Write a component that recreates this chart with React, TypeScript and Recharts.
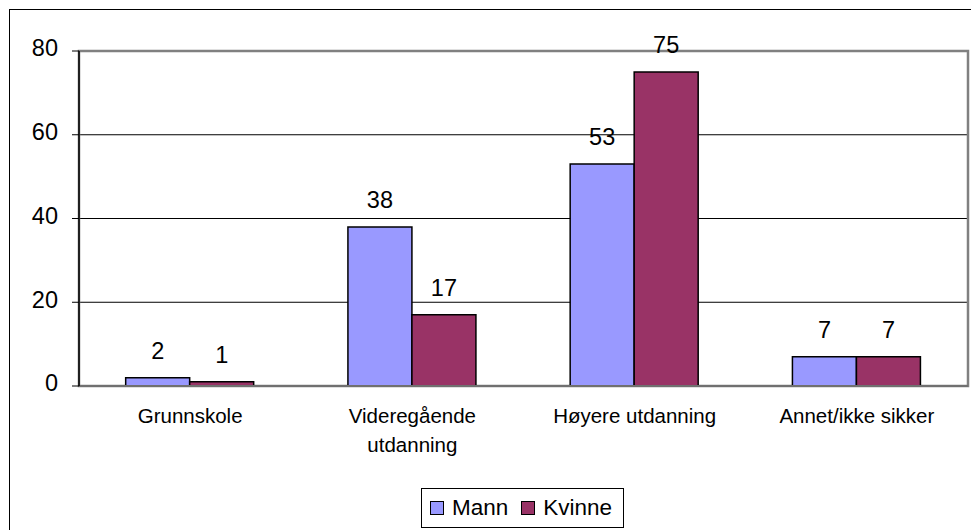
import { BarChart, Bar, XAxis, YAxis, CartesianGrid, LabelList, ReferenceArea } from 'recharts';

const categories = ['Grunnskole', 'Videregående utdanning', 'Høyere utdanning', 'Annet/ikke sikker'];
const mann = [2, 38, 53, 7];
const kvinne = [1, 17, 75, 7];
const yTicks = [0, 20, 40, 60, 80];
const edgeTicks = [0, 1, 2, 3, 4];

const data = categories.map((name, i) => ({ name, Mann: mann[i], Kvinne: kvinne[i] }));

const FONT = 'Liberation Sans, Arial, sans-serif';
const MANN_COLOR = '#9999FF';
const KVINNE_COLOR = '#993366';

// long labels wrap onto two lines, like Excel does when they don't fit the category
const wrapLabel = (s: string) => {
  if (s.length <= 18) return [s];
  const cut = s.lastIndexOf(' ');
  return cut > 0 ? [s.slice(0, cut), s.slice(cut + 1)] : [s];
};

const CategoryTick = (props: any) => {
  const { x, y, payload } = props;
  const lines = wrapLabel(String(payload.value));
  return (
    <text x={x} y={y} textAnchor="middle" fontSize={20.5} fontFamily={FONT} fill="#000">
      {lines.map((line, i) => (
        <tspan key={i} x={x} dy={i === 0 ? '0.71em' : 29}>
          {line}
        </tspan>
      ))}
    </text>
  );
};

const LegendItem = ({ color, label, gap }: { color: string; label: string; gap: number }) => (
  <span style={{ display: 'inline-flex', alignItems: 'center', marginRight: gap }}>
    <span
      style={{
        display: 'inline-block',
        width: 12,
        height: 12,
        background: color,
        border: '1.5px solid #000',
        marginRight: 8,
      }}
    />
    <span>{label}</span>
  </span>
);

export default function App() {
  return (
    <div style={{ position: 'absolute', left: 0, top: 0, width: 971, height: 530, overflow: 'hidden', background: '#fff' }}>
      <div
        style={{
          position: 'absolute',
          left: 9,
          top: 9,
          width: 990,
          height: 560,
          border: '1.5px solid #000',
        }}
      />
      <div style={{ position: 'absolute', left: 0, top: 0 }}>
        <BarChart
          width={971}
          height={530}
          data={data}
          margin={{ top: 51, right: 3, bottom: 0, left: 0 }}
          barCategoryGap="21%"
          barGap={0}
        >
          <CartesianGrid vertical={false} stroke="#000" strokeWidth={1} />
          <ReferenceArea y1={0} y2={80} fill="none" stroke="#808080" strokeWidth={2.5} ifOverflow="visible" />
          <XAxis
            xAxisId="edge"
            type="number"
            domain={[0, 4]}
            ticks={edgeTicks}
            tickFormatter={() => ''}
            axisLine={false}
            tickLine={{ stroke: '#000' }}
            tickSize={5}
            height={0}
          />
          <XAxis
            dataKey="name"
            tick={<CategoryTick />}
            tickLine={false}
            tickSize={0}
            tickMargin={22}
            axisLine={{ stroke: '#707070', strokeWidth: 2 }}
            interval={0}
            height={144}
          />
          <YAxis
            domain={[0, 80]}
            ticks={yTicks}
            width={79}
            tickSize={7}
            tickMargin={14}
            axisLine={{ stroke: '#000', strokeWidth: 1.5 }}
            tickLine={{ stroke: '#000' }}
            tick={{ fontSize: 23.5, fontFamily: FONT, fill: '#000', dy: -3 }}
          />
          <Bar dataKey="Mann" fill={MANN_COLOR} stroke="#000" strokeWidth={1.5} isAnimationActive={false}>
            <LabelList dataKey="Mann" position="top" offset={19} fontSize={23.5} fontFamily={FONT} fill="#000" />
          </Bar>
          <Bar dataKey="Kvinne" fill={KVINNE_COLOR} stroke="#000" strokeWidth={1.5} isAnimationActive={false}>
            <LabelList dataKey="Kvinne" position="top" offset={19} fontSize={23.5} fontFamily={FONT} fill="#000" />
          </Bar>
        </BarChart>
      </div>
      <div
        style={{
          position: 'absolute',
          left: 421,
          top: 488,
          width: 203,
          height: 40,
          border: '1px solid #000',
          boxSizing: 'border-box',
          display: 'flex',
          alignItems: 'center',
          paddingLeft: 8,
          fontFamily: FONT,
          fontSize: 22.5,
          color: '#000',
        }}
      >
        <LegendItem color={MANN_COLOR} label="Mann" gap={13} />
        <LegendItem color={KVINNE_COLOR} label="Kvinne" gap={0} />
      </div>
    </div>
  );
}
